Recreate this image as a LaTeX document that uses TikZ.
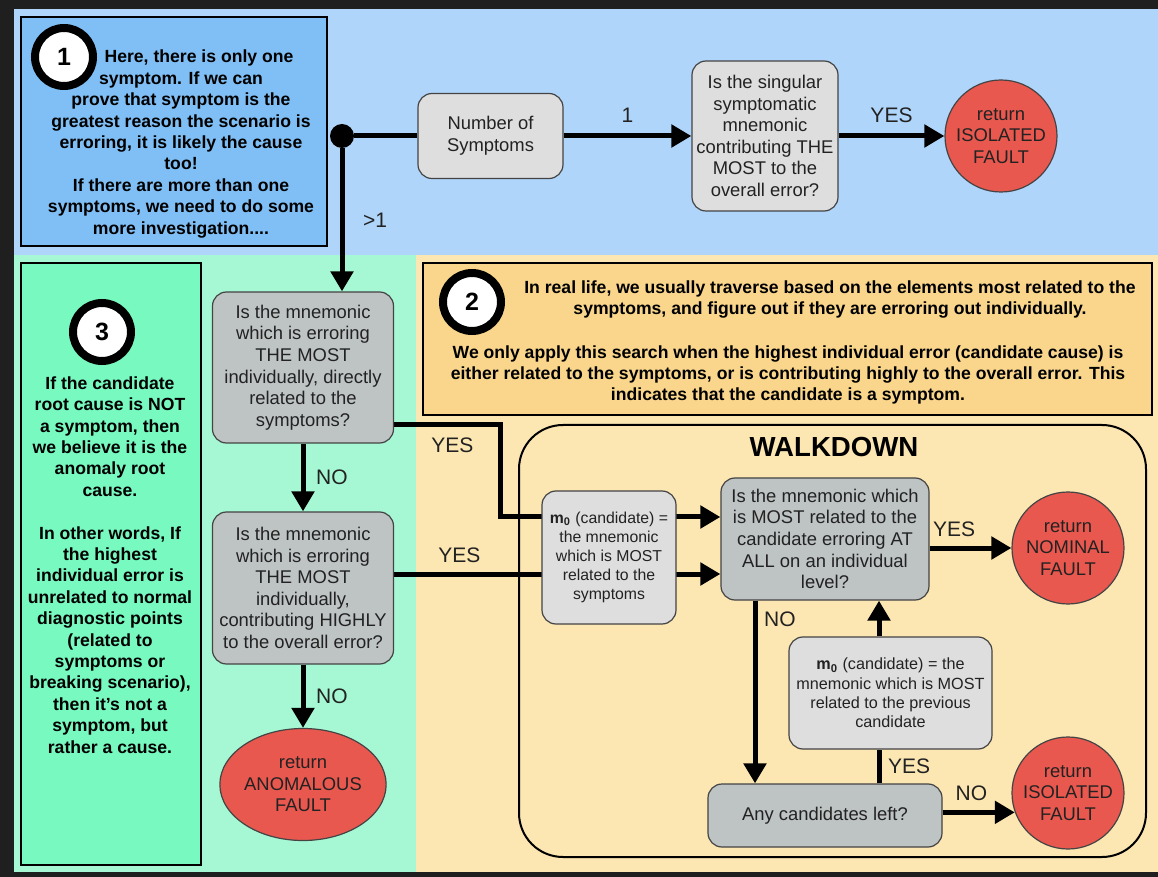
\documentclass[tikz,border=0pt]{standalone}
\usepackage{fontspec}
\setmainfont{Liberation Sans}
\usetikzlibrary{arrows.meta,shapes.geometric}
\pgfdeclarelayer{bg}
\pgfdeclarelayer{wires}
\pgfsetlayers{bg,wires,main}

\definecolor{frame}{HTML}{1F1F1F}
\definecolor{topbg}{HTML}{B0D5FA}
\definecolor{notea}{HTML}{80BFF5}
\definecolor{greenbg}{HTML}{A6F8D4}
\definecolor{notec}{HTML}{77F9BF}
\definecolor{orangebg}{HTML}{FCE6B2}
\definecolor{noteb}{HTML}{F9D68C}
\definecolor{boxlight}{HTML}{DEDEDE}
\definecolor{boxdark}{HTML}{BEC3C4}
\definecolor{boxline}{HTML}{444444}
\definecolor{faultred}{HTML}{E8584F}
\definecolor{ink}{HTML}{222222}

\newcommand\flowfont{\fontsize{9.2}{10.8}\selectfont}
\newcommand\smallflow{\fontsize{7.9}{9.5}\selectfont}
\newcommand\notefont{\fontsize{8.8}{10.7}\selectfont\bfseries}
\newcommand\labfont{\fontsize{10.5}{12}\selectfont}

\tikzset{
  flowbox/.style={draw=boxline, fill=boxlight, rounded corners=7pt, line width=0.6pt,
    align=center, inner sep=1pt, font=\flowfont, text=ink},
  darkbox/.style={flowbox, fill=boxdark},
  endcircle/.style={circle, draw=boxline, fill=faultred, line width=0.6pt, minimum size=56pt,
    inner sep=0pt, align=center, font=\flowfont, text=ink},
  endoval/.style={endcircle, ellipse, minimum width=68.5pt, minimum height=56pt},
  note/.style={draw=black, line width=0.8pt},
  badge/.style={circle, draw=black, fill=white, line width=4pt, minimum size=29pt, inner sep=0pt,
    font=\fontsize{12.5}{12.5}\selectfont\bfseries},
  notetext/.style={align=center, font=\notefont, inner sep=0pt},
  lab/.style={font=\labfont, text=ink},
  wire/.style={line width=2.5pt},
  arrow/.style={wire, -{Triangle[length=10pt,width=11pt]}},
}

\begin{document}
\begin{tikzpicture}[x=0.5pt,y=-0.5pt]
  \useasboundingbox (0,0) rectangle (1158,877);
  \begin{pgfonlayer}{bg}
    \fill[frame] (0,0) rectangle (1158,877);
    \fill[topbg] (14,9) rectangle (1158,255);
    \fill[greenbg] (14,255) rectangle (416,872);
    \fill[orangebg] (416,255) rectangle (1158,872);
  \end{pgfonlayer}

% note 1 (top left)
  \node[note, fill=notea, minimum width=153pt, minimum height=114.5pt] (note1) at (174,131.5) {};
  \node[badge] (c1) at (64,57) {1};
  \node[notetext] (note1text) at (181,144) {\hspace*{18pt}Here, there is only one\\
    symptom. If we can\\ prove that symptom is the\\ greatest reason the scenario is\\
    erroring, it is likely the cause\\ too!\\ If there are more than one\\
    symptoms, we need to do some\\ more investigation....};

% note 3 (left)
  \node[note, fill=notec, minimum width=90pt, minimum height=301pt] (note3) at (111,564) {};
  \node[badge] (c3) at (102,332) {3};
  \node[notetext] (note3text) at (110,565) {If the candidate\\ root cause is NOT\\ a symptom, then\\
    we believe it is the\\ anomaly root\\ cause.\\[10.7pt] In other words, If\\ the highest\\
    individual error is\\ unrelated to normal\\ diagnostic points\\ (related to\\ symptoms or\\
    breaking scenario),\\ then it’s not a\\ symptom, but\\ rather a cause.};

% note 2 (right)
  \node[note, fill=noteb, minimum width=364.5pt, minimum height=76pt] (note2) at (787.5,339) {};
  \node[badge] (c2) at (472,302) {2};
  \node[notetext] (note2a) at (830,299.5) {In real life, we usually traverse based on the elements most related to the\\
    symptoms, and figure out if they are erroring out individually.};
  \node[notetext] (note2b) at (788,375) {We only apply this search when the highest individual error (candidate cause) is\\
    either related to the symptoms, or is contributing highly to the overall error. This\\
    indicates that the candidate is a symptom.};

% top row
  \node[circle, fill=black, minimum size=12pt, inner sep=0pt] (dot) at (342,136) {};
  \node[flowbox, minimum width=72.5pt, minimum height=42.5pt] (nsym) at (490.5,136) {Number of\\ Symptoms};
  \node[flowbox, minimum width=73pt, minimum height=75pt] (single) at (765,136)
    {Is the singular\\ symptomatic\\ mnemonic\\ contributing THE\\ MOST to the\\ overall error?};
  \node[endcircle] (isoA) at (1001,136) {return\\ ISOLATED\\ FAULT};

% middle column
  \node[darkbox, minimum width=90.5pt, minimum height=75.5pt] (dec1) at (303,367.5)
    {Is the mnemonic\\ which is erroring\\ THE MOST\\ individually, directly\\ related to the\\ symptoms?};
  \node[darkbox, minimum width=90.5pt, minimum height=76pt] (dec2) at (303,588)
    {Is the mnemonic\\ which is erroring\\ THE MOST\\ individually,\\ contributing HIGHLY\\ to the overall error?};
  \node[endoval] (anom) at (303,784.5) {return\\ ANOMALOUS\\ FAULT};

% walkdown
  \node[draw, line width=1pt, rounded corners=22pt, minimum width=313.5pt, minimum height=216pt] (walk) at (832.5,641) {};
  \node[font=\fontsize{13.8}{14}\selectfont\bfseries] (walktitle) at (834,447) {WALKDOWN};
  \node[flowbox, font=\smallflow, minimum width=67pt, minimum height=66.5pt] (mzero) at (609,557.5)
    {\textbf{m\textsubscript{0}} (candidate) =\\ the mnemonic\\ which is MOST\\ related to the\\ symptoms};
  \node[darkbox, minimum width=104pt, minimum height=61pt] (decw) at (825,539)
    {Is the mnemonic which\\ is MOST related to the\\ candidate erroring AT\\ ALL on an individual\\ level?};
  \node[endcircle] (nominal) at (1068,548) {return\\ NOMINAL\\ FAULT};
  \node[flowbox, font=\fontsize{8.1}{9.7}\selectfont, minimum width=101.5pt, minimum height=56pt] (mprev) at (890.5,693)
    {\textbf{m\textsubscript{0}} (candidate) = the\\ mnemonic which is MOST\\ related to the previous\\ candidate};
  \node[darkbox, minimum width=117pt, minimum height=31.5pt] (anyleft) at (825,815.5) {Any candidates left?};
  \node[endcircle] (isoB) at (1068,793) {return\\ ISOLATED\\ FAULT};

% connectors
  \draw[wire] (dot) -- (nsym);
  \draw[arrow] (nsym) -- node[lab,above=2pt]{1} (single);
  \draw[arrow] (single) -- node[lab,above=2pt]{YES} (isoA);
  \draw[arrow] (dot) -- node[lab,right=6pt]{>1} (dot |- dec1.north);
  \draw[arrow] (dec1) -- node[lab,right=2pt]{NO} (dec2);
  \draw[arrow] (dec2) -- node[lab,right=2pt]{NO} (anom);
  \begin{pgfonlayer}{wires}
    \draw[arrow] (dec1.east |- 0,425) -- node[lab,below=2pt,pos=0.55]{YES} (500,425) |- (decw.west |- 0,517);
    \draw[arrow] (dec2.east |- 0,574) -- node[lab,above=1pt,pos=0.2]{YES} (decw.west |- 0,574);
  \end{pgfonlayer}
  \draw[arrow] (decw.east |- nominal) -- node[lab,above=1pt,pos=0.3]{YES} (nominal);
  \draw[arrow] (decw.south -| 755,0) -- node[lab,right,pos=0.1]{NO} (anyleft.north -| 755,0);
  \draw[wire] (anyleft.north -| 879,0) -- node[lab,right]{YES} (mprev.south -| 879,0);
  \draw[arrow] (mprev.north -| 879,0) -- (decw.south -| 879,0);
  \draw[arrow] (anyleft.east |- isoB.200) -- node[lab,above=1pt,pos=0.4]{NO} (isoB.200);
\end{tikzpicture}
\end{document}
